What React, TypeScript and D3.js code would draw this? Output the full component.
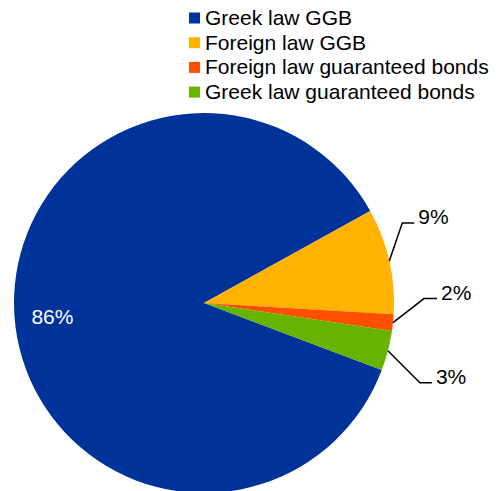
import React from "react";
import * as d3 from "d3";

const categories = [
  "Greek law GGB",
  "Foreign law GGB",
  "Foreign law guaranteed bonds",
  "Greek law guaranteed bonds",
];
const values = [86.2, 9.0, 1.4, 3.4];
const labels = ["86%", "9%", "2%", "3%"];
const colors = ["#003399", "#FFB300", "#FF4F00", "#66B300"];

const W = 496;
const H = 491;
const cx = 204;
const cy = 303;
const R = 190;
const FONT = "'Liberation Sans', Arial, sans-serif";
const FS = 21;

// label leader layout: elbow offsets from slice edge, horizontal run length
const leader: Record<number, { dx: number; dy: number; run: number }> = {
  1: { dx: 13, dy: -38, run: 12 },
  2: { dx: 31, dy: -24, run: 13 },
  3: { dx: 32, dy: 32, run: 12 },
};

export default function App() {
  const total = d3.sum(values);
  const yellowStart = (61 * Math.PI) / 180;
  const start = yellowStart - (values[0] / total) * 2 * Math.PI;
  const pie = d3
    .pie<number>()
    .sort(null)
    .value((d) => d)
    .startAngle(start)
    .endAngle(start + 2 * Math.PI);
  const arcs = pie(values);
  const arc = d3.arc<d3.PieArcDatum<number>>().innerRadius(0).outerRadius(R);

  return (
    <svg
      width={W}
      height={H}
      style={{ position: "absolute", left: 0, top: 0, background: "#fff" }}
      fontFamily={FONT}
    >
      <g transform={`translate(${cx},${cy})`}>
        {arcs.map((a, i) => (
          <path key={i} d={arc(a) || ""} fill={colors[i]} />
        ))}
      </g>
      {arcs.map((a, i) => {
        const mid = (a.startAngle + a.endAngle) / 2;
        if (i === 0) {
          const lr = R * 0.8;
          const x = cx + lr * Math.sin(mid);
          const y = cy - lr * Math.cos(mid);
          return (
            <text key={i} x={x} y={y + 3} fill="#fff" fontSize={FS} textAnchor="middle" dy="0.35em">
              {labels[i]}
            </text>
          );
        }
        const sx = cx + R * Math.sin(mid);
        const sy = cy - R * Math.cos(mid);
        const L = leader[i];
        const ex = sx + L.dx;
        const ey = sy + L.dy;
        const hx = ex + L.run;
        return (
          <g key={i}>
            <polyline
              points={`${sx},${sy} ${ex},${ey} ${hx},${ey}`}
              fill="none"
              stroke="#000"
              strokeWidth={1.5}
            />
            <text x={hx + 4} y={ey + 1} fontSize={FS} fill="#000">
              {labels[i]}
            </text>
          </g>
        );
      })}
      <g>
        {categories.map((c, i) => {
          const baseline = 25 + i * 24.7;
          return (
            <g key={c}>
              <rect x={189} y={baseline - 12.5} width={11} height={11} fill={colors[i]} />
              <text x={205} y={baseline} fontSize={FS} fill="#000">
                {c}
              </text>
            </g>
          );
        })}
      </g>
    </svg>
  );
}
